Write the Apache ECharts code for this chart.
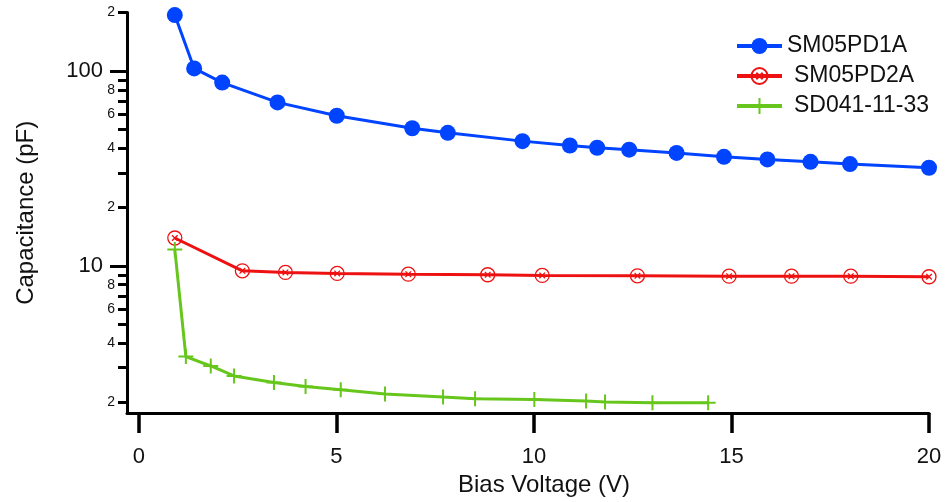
<!DOCTYPE html>
<html>
<head>
<meta charset="utf-8">
<script src="https://cdn.jsdelivr.net/npm/echarts@6/dist/echarts.min.js"></script>
<style>
  html, body { margin: 0; padding: 0; background: #fff; }
  #chart { width: 945px; height: 502px; }
</style>
</head>
<body>
<div id="chart"></div>
<script>
// SM05PD1A
const pd1aV = [0.91, 1.40, 2.11, 3.51, 5.01, 6.92, 7.82, 9.71, 10.91, 11.60, 12.41, 13.61, 14.81, 15.91, 17.00, 18.00, 20.00];
const pd1aC = [194, 103.2, 87.3, 69.1, 59.0, 50.9, 48.2, 43.7, 41.5, 40.4, 39.5, 38.0, 36.3, 35.2, 34.2, 33.3, 31.9];
// SM05PD2A
const pd2aV = [0.91, 2.62, 3.71, 5.02, 6.82, 8.83, 10.21, 12.62, 14.94, 16.52, 18.02, 20.00];
const pd2aC = [13.9, 9.43, 9.25, 9.14, 9.06, 9.00, 8.93, 8.89, 8.85, 8.85, 8.85, 8.79];
// SD041-11-33
const sdV = [0.91, 1.19, 1.82, 2.41, 3.42, 4.22, 5.11, 6.23, 7.70, 8.51, 10.01, 11.32, 11.80, 13.00, 14.41];
const sdC = [12.15, 3.42, 3.06, 2.72, 2.52, 2.40, 2.31, 2.20, 2.12, 2.08, 2.06, 2.02, 2.00, 1.98, 1.98];

const xTicks = [0, 5, 10, 15, 20];
const yMajorTicks = [10, 100];
const yMinorTicks = [2, 3, 4, 5, 6, 7, 8, 9, 20, 30, 40, 50, 60, 70, 80, 90, 200];
const yMinorLabels = [2, 4, 6, 8, 20, 40, 60, 80, 200];

const FONT = "'Liberation Sans', Arial, sans-serif";
const zip = (a, b) => a.map((v, i) => [v, b[i]]);

const ringX = 'path://M0,-10A10,10 0 1,1 0,10A10,10 0 1,1 0,-10ZM-4,-4L4,4M-4,4L4,-4';
const plus = 'path://M-10,0L10,0M0,-10L0,10';

const chart = echarts.init(document.getElementById('chart'));

chart.setOption({
  animation: false,
  textStyle: { fontFamily: FONT },
  grid: { left: 127, right: 16, top: 12.5, bottom: 85 },
  legend: {
    left: 735, top: 34, orient: 'vertical', padding: 0,
    itemWidth: 45, itemHeight: 20, itemGap: 6,
    lineStyle: { width: 4 },
    textStyle: { fontSize: 23, color: '#111', fontFamily: FONT, lineHeight: 24 },
    data: [
      { name: 'SM05PD1A' },
      { name: 'SM05PD2A', textStyle: { padding: [0, 0, 0, 7] } },
      { name: 'SD041-11-33', textStyle: { padding: [0, 0, 0, 7] } }
    ]
  },
  xAxis: {
    type: 'value', min: -0.3, max: 20,
    name: 'Bias Voltage (V)', nameLocation: 'middle', nameGap: 58,
    nameTextStyle: { fontSize: 24, color: '#111', padding: [0, 0, 0, 32] },
    axisLine: { show: true, onZero: false, lineStyle: { color: '#000', width: 3 } },
    axisTick: { show: true, length: 20, lineStyle: { width: 3.5, color: '#000' }, customValues: xTicks },
    axisLabel: { fontSize: 22, color: '#111', margin: 33, customValues: xTicks },
    splitLine: { show: false }
  },
  yAxis: [
    {
      type: 'log', logBase: 10, min: 1.753, max: 200,
      name: 'Capacitance (pF)', nameLocation: 'middle', nameGap: 89,
      nameTextStyle: { fontSize: 24, color: '#111' },
      axisLine: { show: true, onZero: false, lineStyle: { color: '#000', width: 3 } },
      axisTick: { show: true, length: 17, lineStyle: { width: 3, color: '#000' }, customValues: yMajorTicks },
      axisLabel: { fontSize: 22, color: '#111', margin: 24, customValues: yMajorTicks },
      splitLine: { show: false }
    },
    {
      type: 'log', logBase: 10, min: 1.753, max: 200, position: 'left', offset: 0,
      axisLine: { show: false, onZero: false },
      axisTick: { show: true, length: 9, lineStyle: { width: 3, color: '#000' }, customValues: yMinorTicks },
      axisLabel: {
        fontSize: 14, color: '#111', margin: 12, customValues: yMinorLabels,
        formatter: v => String(v).charAt(0)
      },
      splitLine: { show: false }
    }
  ],
  series: [
    {
      name: 'SM05PD1A', type: 'line', data: zip(pd1aV, pd1aC),
      symbol: 'circle', symbolSize: 16,
      itemStyle: { color: '#0044ff' },
      lineStyle: { color: '#0044ff', width: 3 }
    },
    {
      name: 'SM05PD2A', type: 'line', data: zip(pd2aV, pd2aC),
      symbol: ringX, symbolSize: 14,
      itemStyle: { color: 'rgba(255,255,255,0)', borderColor: '#ee1111', borderWidth: 1.3 },
      lineStyle: { color: '#ee1111', width: 3 }
    },
    {
      name: 'SD041-11-33', type: 'line', data: zip(sdV, sdC),
      symbol: plus, symbolSize: 15,
      itemStyle: { color: 'rgba(255,255,255,0)', borderColor: '#66c61c', borderWidth: 2 },
      lineStyle: { color: '#66c61c', width: 3 }
    }
  ]
});
</script>
</body>
</html>
